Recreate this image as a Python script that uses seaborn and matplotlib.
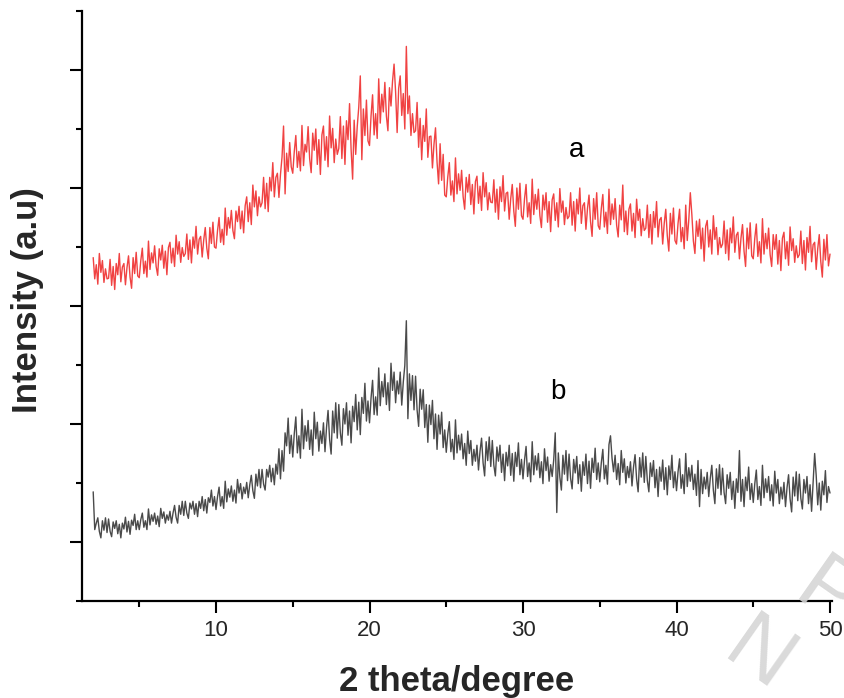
import numpy as np
import pandas as pd
import matplotlib
matplotlib.use("Agg")
import matplotlib.pyplot as plt
import seaborn as sns
from matplotlib.ticker import FixedLocator

# ---------------- data (2θ = 2.0 ... 50.0, step 0.1) ----------------
two_theta_start = 2.0
two_theta_end = 50.0

intensity_a = [
    5.82, 5.46, 5.70, 5.37, 5.89, 5.57, 5.77, 5.40, 5.63, 5.46,
    5.47, 5.79, 5.35, 5.67, 5.28, 5.72, 5.53, 5.89, 5.41, 5.66,
    5.72, 5.36, 5.65, 5.85, 5.49, 5.30, 5.82, 5.55, 5.91, 5.51,
    5.48, 5.77, 5.98, 5.55, 5.76, 5.49, 6.10, 5.62, 5.90, 5.73,
    6.02, 5.67, 5.52, 5.97, 5.78, 6.03, 5.64, 5.93, 5.53, 5.99,
    6.08, 5.73, 5.98, 5.67, 6.20, 5.88, 6.09, 5.74, 5.99, 5.84,
    5.89, 6.22, 5.79, 6.12, 5.73, 6.17, 5.98, 6.35, 5.88, 6.13,
    6.18, 5.83, 6.12, 6.33, 5.98, 5.80, 6.33, 6.06, 6.42, 6.00,
    5.98, 6.28, 6.50, 6.08, 6.30, 6.04, 6.66, 6.20, 6.50, 6.32,
    6.62, 6.28, 6.14, 6.61, 6.43, 6.69, 6.31, 6.61, 6.24, 6.70,
    6.85, 6.43, 6.75, 6.38, 7.05, 6.68, 6.95, 6.53, 6.85, 6.68,
    6.75, 7.18, 6.65, 7.08, 6.60, 7.18, 6.95, 7.43, 6.85, 7.18,
    7.25, 6.84, 7.23, 7.52, 8.05, 6.90, 7.59, 7.28, 7.77, 7.36,
    7.25, 7.62, 7.89, 7.35, 7.62, 7.29, 8.06, 7.38, 7.74, 7.61,
    8.04, 7.50, 7.26, 7.93, 7.64, 8.00, 7.40, 7.82, 7.23, 7.90,
    8.05, 7.47, 7.87, 7.36, 8.22, 7.68, 8.01, 7.43, 7.83, 7.57,
    7.67, 8.21, 7.50, 8.05, 7.40, 8.14, 7.82, 8.43, 7.66, 7.15,
    8.15, 7.57, 8.04, 8.37, 8.90, 7.48, 8.34, 7.89, 8.49, 7.80,
    7.72, 8.22, 8.58, 7.90, 8.26, 7.84, 8.85, 8.10, 8.59, 8.29,
    8.79, 8.22, 7.97, 8.70, 8.39, 8.81, 9.10, 8.63, 7.94, 8.69,
    8.90, 8.23, 8.60, 8.00, 9.40, 8.26, 8.56, 7.89, 8.26, 7.94,
    7.97, 8.45, 7.69, 8.18, 7.48, 8.06, 7.79, 8.34, 7.52, 7.87,
    7.88, 7.34, 7.74, 8.02, 7.44, 7.07, 7.75, 7.13, 7.57, 6.88,
    6.85, 7.19, 7.43, 6.88, 7.12, 6.77, 7.51, 6.90, 7.24, 6.96,
    7.30, 6.85, 6.64, 7.18, 6.93, 7.23, 6.72, 7.06, 6.56, 7.11,
    7.20, 6.74, 7.03, 6.62, 7.26, 6.85, 7.09, 6.63, 6.92, 6.76,
    6.75, 7.14, 6.59, 6.98, 6.47, 7.02, 6.77, 7.21, 6.61, 6.91,
    6.93, 6.47, 6.82, 7.06, 6.61, 6.35, 7.00, 6.64, 7.08, 6.53,
    6.47, 6.82, 7.06, 6.51, 6.75, 6.40, 7.15, 6.55, 6.89, 6.64,
    6.98, 6.53, 6.33, 6.88, 6.63, 6.92, 6.42, 6.77, 6.26, 6.80,
    6.90, 6.45, 6.75, 6.34, 6.99, 6.59, 6.78, 6.38, 6.67, 6.48,
    6.52, 6.92, 6.37, 6.77, 6.27, 6.81, 6.56, 7.00, 6.40, 6.70,
    6.75, 6.30, 6.65, 6.88, 6.43, 6.18, 6.82, 6.47, 6.92, 6.36,
    6.30, 6.65, 6.89, 6.34, 6.59, 6.23, 6.98, 6.38, 6.73, 6.47,
    6.82, 6.37, 6.17, 6.71, 6.46, 7.05, 6.26, 6.61, 6.21, 6.64,
    6.73, 6.27, 6.57, 6.16, 6.81, 6.45, 6.64, 6.19, 6.48, 6.28,
    6.32, 6.71, 6.16, 6.55, 6.05, 6.60, 6.33, 6.77, 6.17, 6.46,
    6.50, 6.05, 6.40, 6.64, 6.19, 5.93, 6.57, 6.22, 6.66, 6.11,
    6.05, 6.40, 6.64, 6.09, 6.33, 5.97, 6.71, 6.11, 6.46, 6.92,
    6.55, 6.10, 5.89, 6.44, 6.18, 6.47, 5.97, 6.32, 5.76, 6.35,
    6.45, 6.00, 6.29, 5.88, 6.53, 6.13, 6.33, 5.87, 6.16, 5.99,
    6.05, 6.44, 5.89, 6.29, 5.78, 6.32, 6.07, 6.51, 5.91, 6.20,
    6.25, 5.80, 6.15, 6.38, 5.93, 5.67, 6.32, 5.97, 6.41, 5.85,
    5.80, 6.15, 6.39, 5.84, 6.09, 5.73, 6.48, 5.88, 6.23, 5.97,
    6.32, 5.87, 5.67, 6.21, 5.96, 6.21, 5.71, 6.11, 5.60, 6.15,
    6.25, 5.80, 6.09, 5.69, 6.34, 5.94, 6.14, 5.74, 6.02, 5.82,
    5.87, 6.27, 5.72, 6.11, 5.61, 6.16, 5.91, 6.35, 5.75, 6.04,
    6.08, 5.62, 5.97, 6.21, 5.75, 5.49, 6.13, 5.78, 6.21, 5.68,
    5.88,
]

intensity_b = [
    1.85, 1.21, 1.32, 1.41, 1.18, 1.07, 1.36, 1.20, 1.41, 1.16,
    1.39, 1.18, 1.09, 1.34, 1.23, 1.36, 1.14, 1.30, 1.07, 1.32,
    1.22, 1.42, 1.17, 1.35, 1.13, 1.37, 1.28, 1.47, 1.21, 1.36,
    1.21, 1.38, 1.49, 1.25, 1.36, 1.21, 1.56, 1.29, 1.46, 1.35,
    1.49, 1.30, 1.44, 1.26, 1.57, 1.40, 1.51, 1.32, 1.46, 1.37,
    1.52, 1.32, 1.49, 1.62, 1.42, 1.32, 1.62, 1.47, 1.69, 1.45,
    1.69, 1.49, 1.40, 1.66, 1.56, 1.69, 1.47, 1.65, 1.43, 1.69,
    1.57, 1.77, 1.53, 1.72, 1.49, 1.75, 1.67, 1.88, 1.61, 1.77,
    1.55, 1.77, 1.93, 1.61, 1.77, 1.57, 2.03, 1.68, 1.90, 1.76,
    1.95, 1.69, 1.88, 1.66, 2.06, 1.83, 1.99, 1.73, 1.93, 1.82,
    2.01, 1.75, 1.97, 2.13, 1.87, 1.74, 2.15, 1.95, 2.23, 1.92,
    2.23, 1.98, 1.88, 2.23, 2.10, 2.30, 2.02, 2.25, 1.97, 2.32,
    2.15, 2.58, 2.07, 2.55, 2.20, 2.85, 2.63, 3.10, 2.50, 2.81,
    2.44, 2.84, 3.12, 2.51, 2.80, 2.42, 3.25, 2.58, 2.97, 2.71,
    3.06, 2.57, 2.90, 2.47, 3.20, 2.75, 3.03, 2.54, 2.88, 2.67,
    3.02, 2.53, 2.94, 3.23, 2.74, 2.49, 3.22, 2.85, 3.36, 2.76,
    3.33, 2.85, 2.64, 3.26, 3.00, 3.36, 2.81, 3.22, 2.68, 3.30,
    3.04, 3.50, 2.90, 3.37, 2.82, 3.45, 3.18, 3.69, 3.05, 3.39,
    3.02, 3.44, 3.74, 3.16, 3.46, 3.15, 3.95, 3.31, 3.72, 3.46,
    3.85, 3.33, 3.70, 3.23, 4.03, 3.57, 3.88, 3.36, 3.73, 3.51,
    3.88, 3.32, 3.71, 3.99, 4.75, 3.09, 3.85, 3.40, 3.82, 3.24,
    3.81, 3.24, 2.96, 3.59, 3.25, 3.58, 2.94, 3.33, 2.69, 3.32,
    2.99, 3.40, 2.75, 3.17, 2.57, 3.15, 2.83, 3.20, 2.60, 2.90,
    2.52, 2.83, 3.04, 2.53, 2.74, 2.40, 3.07, 2.51, 2.81, 2.56,
    2.83, 2.41, 2.67, 2.30, 2.88, 2.50, 2.72, 2.30, 2.57, 2.37,
    2.64, 2.22, 2.54, 2.76, 2.34, 2.12, 2.70, 2.38, 2.78, 2.28,
    2.72, 2.30, 2.12, 2.61, 2.37, 2.64, 2.18, 2.49, 2.04, 2.52,
    2.29, 2.64, 2.13, 2.50, 2.03, 2.52, 2.28, 2.68, 2.14, 2.40,
    2.07, 2.39, 2.62, 2.11, 2.34, 2.02, 2.70, 2.14, 2.46, 2.22,
    2.50, 2.09, 2.36, 1.99, 2.58, 2.21, 2.44, 2.03, 2.31, 2.11,
    2.39, 2.85, 1.50, 2.51, 2.10, 1.88, 2.47, 2.15, 2.55, 2.04,
    2.49, 2.08, 1.90, 2.40, 2.17, 2.45, 1.99, 2.31, 1.86, 2.36,
    2.13, 2.49, 1.99, 2.37, 1.91, 2.42, 2.18, 2.59, 2.06, 2.34,
    2.02, 2.34, 2.57, 2.07, 2.30, 1.98, 2.65, 2.80, 2.42, 2.19,
    2.47, 2.06, 2.33, 1.97, 2.55, 2.18, 2.41, 2.00, 2.28, 2.09,
    2.36, 1.95, 2.27, 2.48, 2.07, 1.85, 2.43, 2.10, 2.51, 2.01,
    2.45, 2.04, 1.85, 2.34, 2.11, 2.38, 1.92, 2.23, 1.77, 2.27,
    2.03, 2.39, 1.89, 2.26, 1.80, 2.29, 2.06, 2.47, 1.92, 2.19,
    1.87, 2.19, 2.41, 1.91, 2.14, 1.82, 2.50, 1.94, 2.26, 2.03,
    2.30, 1.89, 2.15, 1.79, 2.38, 1.60, 2.23, 1.82, 2.10, 1.90,
    2.18, 1.77, 2.08, 2.30, 1.88, 1.65, 2.24, 1.91, 2.31, 1.80,
    2.25, 1.84, 1.65, 2.14, 1.91, 2.18, 1.72, 2.03, 1.57, 2.07,
    1.84, 2.55, 1.69, 2.06, 1.60, 2.10, 1.87, 2.27, 1.72, 1.99,
    1.67, 1.99, 2.22, 1.72, 1.94, 1.62, 2.30, 1.75, 2.07, 1.84,
    2.11, 1.70, 1.97, 1.61, 2.20, 1.83, 2.06, 1.65, 1.93, 1.73,
    2.01, 1.60, 1.92, 2.14, 1.73, 1.51, 2.10, 1.78, 2.19, 1.70,
    2.15, 1.74, 1.56, 2.06, 1.83, 2.11, 1.65, 1.97, 1.52, 2.01,
    2.50, 2.13, 1.63, 2.00, 1.54, 2.03, 1.80, 2.21, 1.67, 1.94,
    1.83,
]

series_labels = ["a", "b"]
label_x = [33.5, 32.3]
label_y = [7.64, 3.54]
x_tick_values = [10, 20, 30, 40, 50]
watermark_letters = ["N", "P"]

# ---------------- build table ----------------
two_theta = np.linspace(two_theta_start, two_theta_end, len(intensity_a))
df = pd.concat([
    pd.DataFrame({"two_theta": two_theta, "intensity": intensity_a, "sample": "a"}),
    pd.DataFrame({"two_theta": two_theta, "intensity": intensity_b, "sample": "b"}),
], ignore_index=True)

sns.set_style("ticks")
plt.rcParams["font.family"] = ["Liberation Sans", "DejaVu Sans"]

fig = plt.figure(figsize=(8.45, 6.98), dpi=100)
ax = fig.add_axes([82 / 845, 1 - 601 / 698, 750 / 845, 590 / 698])

palette = {"a": "#f04242", "b": "#4a4a4a"}
sns.lineplot(data=df, x="two_theta", y="intensity", hue="sample",
             palette=palette, linewidth=1.0, legend=False, ax=ax,
             estimator=None, sort=False)

ax.set_xlim(1.27, 50.13)
ax.set_ylim(0, 10)

for s in ["top", "right"]:
    ax.spines[s].set_visible(False)
for s in ["left", "bottom"]:
    ax.spines[s].set_linewidth(1.6)
    ax.spines[s].set_color("black")

ax.xaxis.set_major_locator(FixedLocator(x_tick_values))
ax.xaxis.set_minor_locator(FixedLocator([5, 15, 25, 35, 45]))
ax.yaxis.set_major_locator(FixedLocator([1, 3, 5, 7, 9]))
ax.yaxis.set_minor_locator(FixedLocator([0, 2, 4, 6, 8, 10]))
ax.tick_params(axis="both", which="major", direction="out", length=8.5, width=1.5,
               color="black", labelsize=16, pad=5)
ax.tick_params(axis="both", which="minor", direction="out", length=4.2, width=1.5,
               color="black")
ax.set_yticklabels([])

ax.set_xlabel("2 theta/degree", fontsize=25, fontweight="bold")
ax.set_ylabel("Intensity (a.u)", fontsize=25, fontweight="bold")
ax.xaxis.set_label_coords(0.5, -0.108)
ax.yaxis.set_label_coords(-0.05, 0.51)

for lab, lx, ly in zip(series_labels, label_x, label_y):
    ax.text(lx, ly, lab, fontsize=20, ha="center", va="center", color="black")

# faint watermark letters (partially visible in the corner, as in the source)
wm_pos = [(758 / 845, 1 - 658 / 698), (827 / 845, 1 - 597 / 698)]
for letter, (wx, wy) in zip(watermark_letters, wm_pos):
    fig.text(wx, wy, letter, fontsize=62, rotation=-35, ha="center", va="center",
             color="#d6d6d6", alpha=0.9, zorder=10)

fig.savefig("out.png", dpi=100)
